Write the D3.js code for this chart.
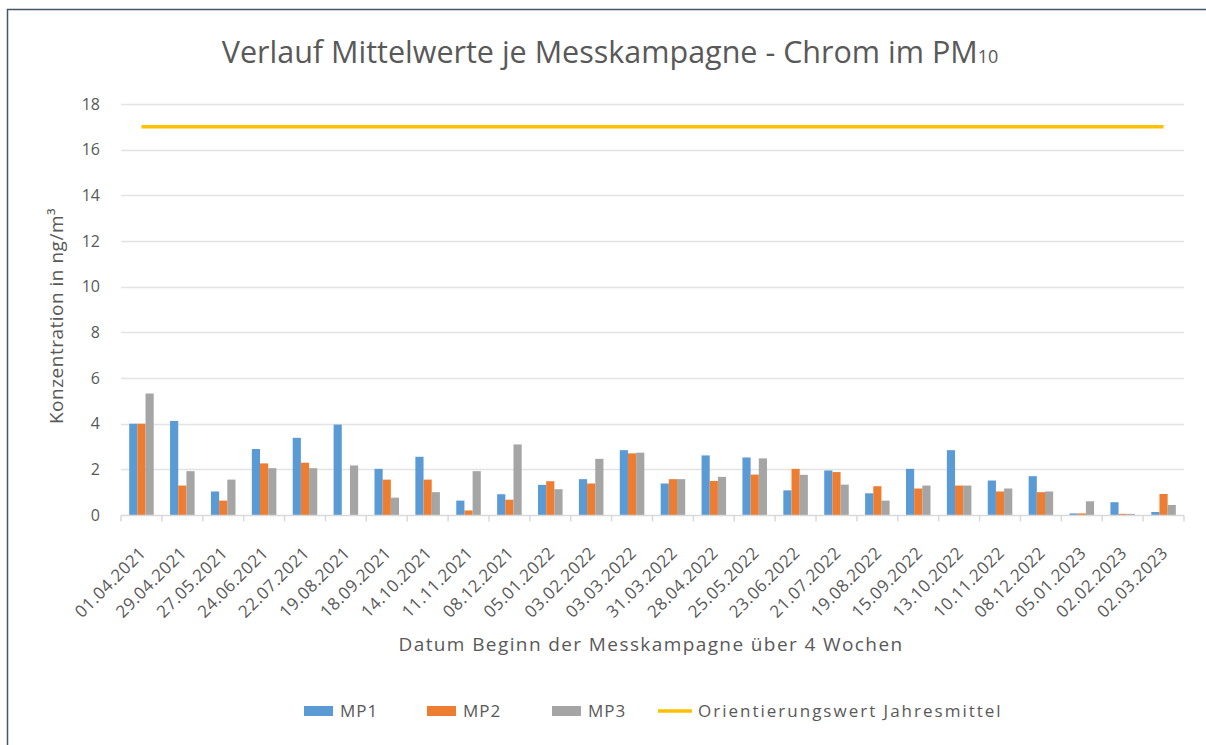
<!DOCTYPE html>
<html>
<head>
<meta charset="utf-8">
<script src="https://cdn.jsdelivr.net/npm/d3@7"></script>
<style>
  body { margin: 0; background: #fff; }
  svg { display: block; }
</style>
</head>
<body>
<div id="chart"></div>
<script>
var dates = ["01.04.2021", "29.04.2021", "27.05.2021", "24.06.2021", "22.07.2021", "19.08.2021",
    "18.09.2021", "14.10.2021", "11.11.2021", "08.12.2021", "05.01.2022", "03.02.2022",
    "03.03.2022", "31.03.2022", "28.04.2022", "25.05.2022", "23.06.2022", "21.07.2022",
    "19.08.2022", "15.09.2022", "13.10.2022", "10.11.2022", "08.12.2022", "05.01.2023",
    "02.02.2023", "02.03.2023"];

var mp1 = [4.0, 4.12, 1.03, 2.89, 3.38, 3.96, 2.02, 2.55, 0.63, 0.91, 1.32, 1.57, 2.84,
    1.38, 2.61, 2.52, 1.08, 1.95, 0.95, 2.02, 2.84, 1.51, 1.70, 0.07, 0.56, 0.13];
var mp2 = [4.0, 1.29, 0.63, 2.26, 2.29, 0, 1.55, 1.55, 0.2, 0.67, 1.48, 1.38, 2.70,
    1.57, 1.49, 1.77, 2.02, 1.88, 1.26, 1.16, 1.29, 1.03, 1.0, 0.07, 0.05, 0.92];
var mp3 = [5.32, 1.92, 1.55, 2.05, 2.05, 2.17, 0.76, 1.0, 1.92, 3.09, 1.13, 2.46, 2.73,
    1.57, 1.67, 2.48, 1.76, 1.33, 0.63, 1.29, 1.29, 1.16, 1.03, 0.6, 0.05, 0.44];
var orientierung = [17, 17, 17, 17, 17, 17, 17, 17, 17, 17, 17, 17, 17,
    17, 17, 17, 17, 17, 17, 17, 17, 17, 17, 17, 17, 17];

var seriesNames = ["MP1", "MP2", "MP3"];
var yTicks = [0, 2, 4, 6, 8, 10, 12, 14, 16, 18];
var colors = {MP1: "#5b9bd5", MP2: "#ed7d31", MP3: "#a5a5a5", line: "#ffc000"};

var W = 1206, H = 745;
var plot = {left: 121, right: 1184, top: 104, bottom: 515};
var font = "'Open Sans', sans-serif";
var textCol = "#595959";

var svg = d3.select("#chart").append("svg")
    .attr("width", W)
    .attr("height", H);

// frame of the chart object
svg.append("rect").attr("x", 7.5).attr("y", 9.5).attr("width", 1220).attr("height", 760)
    .attr("fill", "none").attr("stroke", "#d9d9d9");
svg.append("line").attr("x1", 7.5).attr("x2", 7.5).attr("y1", 9).attr("y2", 745)
    .attr("stroke", "#44546a").attr("stroke-width", 1.5);
svg.append("line").attr("x1", 7).attr("x2", 1206).attr("y1", 9.5).attr("y2", 9.5)
    .attr("stroke", "#44546a").attr("stroke-width", 1.5);

var x = d3.scaleBand()
    .domain(dates)
    .range([plot.left, plot.right])
    .paddingInner(0.4)
    .paddingOuter(0.2);

var xSub = d3.scaleBand()
    .domain(seriesNames)
    .range([0, x.bandwidth()]);

var y = d3.scaleLinear()
    .domain([0, 18])
    .range([plot.bottom, plot.top]);

// gridlines
svg.append("g")
    .selectAll("line")
    .data(yTicks.filter(function(d) { return d > 0; }))
    .enter().append("line")
    .attr("x1", plot.left).attr("x2", plot.right)
    .attr("y1", function(d) { return Math.round(y(d)) + 0.5; })
    .attr("y2", function(d) { return Math.round(y(d)) + 0.5; })
    .attr("stroke", "#e3e3e3")
    .attr("stroke-width", 1.5);

// y axis labels
var yAxis = svg.append("g")
    .attr("transform", "translate(" + plot.left + ",0)")
    .call(d3.axisLeft(y).tickValues(yTicks).tickSize(0).tickPadding(21));
yAxis.select(".domain").remove();
yAxis.selectAll("text")
    .attr("font-family", font)
    .attr("font-size", 16)
    .attr("fill", textCol);

// bars
var rows = dates.map(function(d, i) {
    return {date: d, values: [{k: "MP1", v: mp1[i]}, {k: "MP2", v: mp2[i]}, {k: "MP3", v: mp3[i]}]};
});

var groups = svg.append("g").selectAll("g")
    .data(rows)
    .enter().append("g")
    .attr("transform", function(d) { return "translate(" + x(d.date) + ",0)"; });

groups.selectAll("rect")
    .data(function(d) { return d.values; })
    .enter().append("rect")
    .attr("x", function(d) { return xSub(d.k); })
    .attr("width", xSub.bandwidth())
    .attr("y", function(d) { return y(d.v); })
    .attr("height", function(d) { return plot.bottom - y(d.v); })
    .attr("fill", function(d) { return colors[d.k]; });

// x axis with ticks between categories
var step = x.step();
var xAxis = svg.append("g")
    .attr("transform", "translate(0," + (plot.bottom + 0.5) + ")");
xAxis.append("line")
    .attr("x1", plot.left).attr("x2", plot.right)
    .attr("stroke", "#d9d9d9").attr("stroke-width", 1.5);
xAxis.selectAll(".tick")
    .data(d3.range(dates.length + 1))
    .enter().append("line")
    .attr("class", "tick")
    .attr("x1", function(i) { return plot.left + i * step; })
    .attr("x2", function(i) { return plot.left + i * step; })
    .attr("y1", 0).attr("y2", 6)
    .attr("stroke", "#d9d9d9").attr("stroke-width", 1.5);

xAxis.selectAll(".lbl")
    .data(dates)
    .enter().append("text")
    .attr("class", "lbl")
    .attr("transform", function(d) {
        return "translate(" + (x(d) + x.bandwidth() / 2 - 3) + ",30) rotate(-45)";
    })
    .attr("text-anchor", "end")
    .attr("dy", "0.7em")
    .attr("font-family", font)
    .attr("font-size", 17)
    .attr("letter-spacing", 0.5)
    .attr("fill", textCol)
    .text(function(d) { return d; });

// reference line
var line = d3.line()
    .x(function(d, i) { return x(dates[i]) + x.bandwidth() / 2; })
    .y(function(d) { return y(d); });

svg.append("path")
    .datum(orientierung)
    .attr("d", line)
    .attr("fill", "none")
    .attr("stroke", colors.line)
    .attr("stroke-width", 3.5);

// title
var title = svg.append("text")
    .attr("x", 610).attr("y", 63)
    .attr("text-anchor", "middle")
    .attr("font-family", font)
    .attr("font-size", 30.5)
    .attr("fill", "#595959");
title.append("tspan").text("Verlauf Mittelwerte je Messkampagne - Chrom im PM");
title.append("tspan").attr("font-size", 18).text("10");

// axis titles
svg.append("text")
    .attr("transform", "translate(63,316) rotate(-90)")
    .attr("text-anchor", "middle")
    .attr("font-family", font)
    .attr("font-size", 19)
    .attr("letter-spacing", 0.5)
    .attr("fill", textCol)
    .text("Konzentration in ng/m³");

svg.append("text")
    .attr("x", 651).attr("y", 651)
    .attr("text-anchor", "middle")
    .attr("font-family", font)
    .attr("font-size", 19)
    .attr("letter-spacing", 1.4)
    .attr("fill", textCol)
    .text("Datum Beginn der Messkampagne über 4 Wochen");

// legend
var legendItems = [
    {name: "MP1", color: colors.MP1, x: 304, type: "rect"},
    {name: "MP2", color: colors.MP2, x: 427, type: "rect"},
    {name: "MP3", color: colors.MP3, x: 552, type: "rect"},
    {name: "Orientierungswert Jahresmittel", color: colors.line, x: 658, type: "line"}
];
var legend = svg.append("g").attr("transform", "translate(0,711)");
legendItems.forEach(function(d) {
    if (d.type === "rect") {
        legend.append("rect").attr("x", d.x).attr("y", -5).attr("width", 29).attr("height", 10)
            .attr("fill", d.color);
    } else {
        legend.append("line").attr("x1", d.x).attr("x2", d.x + 34).attr("y1", 0).attr("y2", 0)
            .attr("stroke", d.color).attr("stroke-width", 3.5);
    }
    legend.append("text")
        .attr("x", d.x + (d.type === "rect" ? 36 : 40))
        .attr("y", 0)
        .attr("dy", "0.35em")
        .attr("font-family", font)
        .attr("font-size", 17)
        .attr("letter-spacing", d.type === "rect" ? 1 : 2)
        .attr("fill", textCol)
        .text(d.name);
});
</script>
</body>
</html>
